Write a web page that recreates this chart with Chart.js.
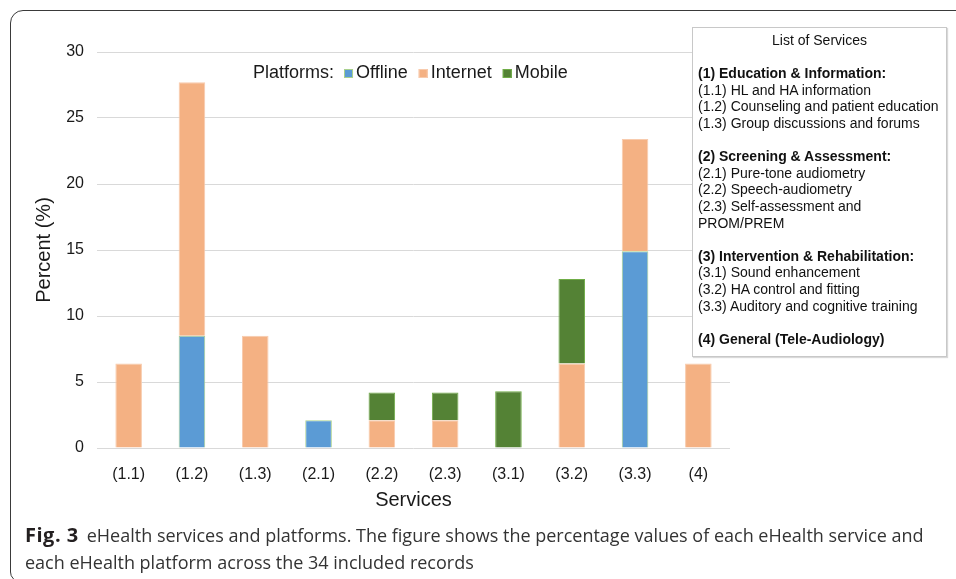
<!DOCTYPE html>
<html>
<head>
<meta charset="utf-8">
<script src="https://cdn.jsdelivr.net/npm/chart.js@4"></script>
<style>
  html, body { margin: 0; padding: 0; background: #fff; }
  body { width: 956px; height: 579px; position: relative; overflow: hidden; }
  #frame {
    position: absolute; left: 10px; top: 10px; width: 960px; height: 572px;
    border: 1.5px solid #3a3a3a; border-top-left-radius: 13px; border-bottom-left-radius: 10px;
    box-sizing: border-box;
  }
  #wrap { position: absolute; left: 0; top: 0; width: 956px; height: 579px; }
  #services {
    position: absolute; left: 692px; top: 27px; width: 255px; height: 330px;
    box-sizing: border-box; border: 1px solid #c8c8c8; background: #fff;
    box-shadow: 1px 1px 1px rgba(0,0,0,0.15);
    font: 14px "Liberation Sans", Arial, sans-serif; color: #111;
    line-height: 16.6px; padding: 4px 0 0 5px; white-space: nowrap;
  }
  #services .t { text-align: center; padding-right: 5px; }
  #services b { font-weight: bold; }
  #caption {
    position: absolute; left: 25px; top: 521px; width: 930px;
    font: 18px "Open Sans", sans-serif; color: #333; line-height: 27px;
  }
  #caption b { color: #231f20; font-weight: bold; font-size: 20px; letter-spacing: 0.5px; margin-right: 8px; }
</style>
</head>
<body>
<div id="frame"></div>
<div id="wrap"><canvas id="grafico" width="956" height="579"></canvas></div>
<div id="services">
  <div class="t">List of Services</div>
  <div>&nbsp;</div>
  <div><b>(1) Education &amp; Information:</b></div>
  <div>(1.1) HL and HA information</div>
  <div>(1.2) Counseling and patient education</div>
  <div>(1.3) Group discussions and forums</div>
  <div>&nbsp;</div>
  <div><b>(2) Screening &amp; Assessment:</b></div>
  <div>(2.1) Pure-tone audiometry</div>
  <div>(2.2) Speech-audiometry</div>
  <div>(2.3) Self-assessment and</div>
  <div>PROM/PREM</div>
  <div>&nbsp;</div>
  <div><b>(3) Intervention &amp; Rehabilitation:</b></div>
  <div>(3.1) Sound enhancement</div>
  <div>(3.2) HA control and fitting</div>
  <div>(3.3) Auditory and cognitive training</div>
  <div>&nbsp;</div>
  <div><b>(4) General (Tele-Audiology)</b></div>
</div>
<div id="caption"><b>Fig. 3</b>eHealth services and platforms. The figure shows the percentage values of each eHealth service and each eHealth platform across the 34 included records</div>

<script>
// datos (porcentaje)
const servicios = ["(1.1)", "(1.2)", "(1.3)", "(2.1)", "(2.2)", "(2.3)", "(3.1)", "(3.2)", "(3.3)", "(4)"];
const offline  = [null, 8.5, null, 2.1, null, null, null, null, 14.9, null];
const internet = [6.4, 19.2, 8.5, null, 2.1, 2.1, null, 6.4, 8.5, 6.4];
const mobile   = [null, null, null, null, 2.1, 2.1, 4.3, 6.4, null, null];
const yTicks = [0, 5, 10, 15, 20, 25, 30];

const FONT = "'Liberation Sans', Arial, sans-serif";

// leyenda dibujada a mano: "Platforms: ■ Offline ■ Internet ■ Mobile"
const leyenda = {
  id: 'leyenda',
  afterDraw(chart) {
    const ctx = chart.ctx;
    let x = chart.chartArea.left + 156;
    const y = 73;
    ctx.save();
    ctx.font = "18px " + FONT;
    ctx.fillStyle = "#1a1a1a";
    ctx.textBaseline = "middle";
    ctx.fillText("Platforms:", x, y);
    x += ctx.measureText("Platforms:").width + 10;
    chart.data.datasets.forEach(ds => {
      ctx.fillStyle = ds.backgroundColor;
      ctx.fillRect(x, y - 4, 9, 9);
      ctx.strokeStyle = ds.borderColor;
      ctx.lineWidth = 1;
      ctx.strokeRect(x + 0.5, y - 3.5, 8, 8);
      x += 12;
      ctx.fillStyle = "#1a1a1a";
      ctx.fillText(ds.label, x, y);
      x += ctx.measureText(ds.label).width + 11;
    });
    ctx.restore();
  }
};

const ctx = document.getElementById('grafico').getContext('2d');
const chart = new Chart(ctx, {
  type: 'bar',
  data: {
    labels: servicios,
    datasets: [
      { label: 'Offline',  data: offline,  backgroundColor: '#5b9bd5', borderColor: '#a9d18e', borderWidth: 1 },
      { label: 'Internet', data: internet, backgroundColor: '#f4b183', borderColor: '#f8cbad', borderWidth: 1 },
      { label: 'Mobile',   data: mobile,   backgroundColor: '#548235', borderColor: '#70ad47', borderWidth: 1 }
    ]
  },
  options: {
    responsive: false,
    animation: false,
    layout: { padding: { left: 0, right: 226, top: 52, bottom: 61 } },
    datasets: { bar: { barPercentage: 0.42, categoryPercentage: 1 } },
    plugins: { legend: { display: false }, tooltip: { enabled: false } },
    scales: {
      x: {
        stacked: true,
        grid: { display: false },
        border: { display: false },
        ticks: { font: { size: 16, family: FONT }, color: '#1a1a1a', padding: 9 },
        title: { display: true, text: 'Services', font: { size: 20, family: FONT }, color: '#1a1a1a', padding: { bottom: 6 } },
        afterFit(s) { s.height = 70; }
      },
      y: {
        stacked: true,
        min: 0, max: 30,
        afterBuildTicks(s) { s.ticks = yTicks.map(v => ({ value: v })); },
        grid: { color: '#d9d9d9', lineWidth: 1, drawTicks: false },
        border: { display: false },
        ticks: { font: { size: 16, family: FONT }, color: '#1a1a1a', padding: 13 },
        title: { display: true, text: 'Percent (%)', font: { size: 20, family: FONT }, color: '#1a1a1a', padding: { top: 32 } },
        afterFit(s) { s.width = 97; }
      }
    }
  },
  plugins: [leyenda]
});
</script>
</body>
</html>
